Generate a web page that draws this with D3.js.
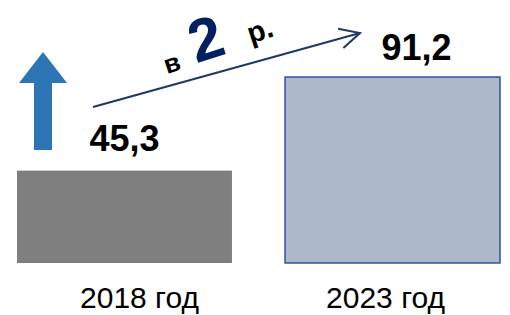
<!DOCTYPE html>
<html>
<head>
<meta charset="utf-8">
<script src="https://cdn.jsdelivr.net/npm/d3@7"></script>
<style>
  body { margin: 0; background: #fff; }
  text { font-family: "Liberation Sans", Arial, sans-serif; }
</style>
</head>
<body>
<script>
var years = ['2018 год', '2023 год'];
var values = [45.3, 91.2];
var valueLabels = ['45,3', '91,2'];
var growthText = ['в', '2', 'р.'];

var width = 510, height = 315;

var svg = d3.select("body").append("svg")
        .attr("width", width)
        .attr("height", height);

var x = d3.scaleBand()
        .domain(years)
        .range([17, 500])
        .paddingInner(0.198);

var y = d3.scaleLinear()
        .domain([0, 91.2])
        .range([263, 77]);

var barFill = ['#7f7f7f', '#adb9ca'];
var barStroke = ['none', '#2f5597'];

svg.selectAll("rect.bar")
    .data(values)
    .enter().append("rect")
        .attr("class", "bar")
        .attr("x", function(d, i){ return x(years[i]); })
        .attr("y", function(d){ return y(d); })
        .attr("width", x.bandwidth())
        .attr("height", function(d){ return y(0) - y(d); })
        .attr("fill", function(d, i){ return barFill[i]; })
        .attr("stroke", function(d, i){ return barStroke[i]; })
        .attr("stroke-width", 1.5);

// value labels over bars
var labelShift = [0, 24];
var labelGap = [20, 17];
svg.selectAll("text.val")
    .data(values)
    .enter().append("text")
        .attr("class", "val")
        .attr("x", function(d, i){ return x(years[i]) + x.bandwidth() / 2 + labelShift[i]; })
        .attr("y", function(d, i){ return y(d) - labelGap[i]; })
        .attr("text-anchor", "middle")
        .attr("font-size", 36)
        .attr("font-weight", "bold")
        .attr("fill", "#000")
        .text(function(d, i){ return valueLabels[i]; });

// category labels
var catShift = [15, -7];
svg.selectAll("text.cat")
    .data(years)
    .enter().append("text")
        .attr("class", "cat")
        .attr("x", function(d, i){ return x(d) + x.bandwidth() / 2 + catShift[i]; })
        .attr("y", 308)
        .attr("text-anchor", "middle")
        .attr("font-size", 30)
        .attr("fill", "#000")
        .text(function(d){ return d; });

// blue block arrow pointing up
svg.append("path")
        .attr("d", "M34,150 L34,83 L19,83 L43,52 L67,83 L52,83 L52,150 Z")
        .attr("fill", "#2e75b6");

// growth arrow line
svg.append("defs").append("marker")
        .attr("id", "open")
        .attr("markerUnits", "userSpaceOnUse")
        .attr("viewBox", "-22 -12 24 24")
        .attr("refX", 0).attr("refY", 0)
        .attr("markerWidth", 24).attr("markerHeight", 24)
        .attr("orient", "auto")
      .append("path")
        .attr("d", "M-20,-10 L0,0 L-20,10")
        .attr("fill", "none")
        .attr("stroke", "#1f3864")
        .attr("stroke-width", 2);

svg.append("line")
        .attr("x1", 93).attr("y1", 107)
        .attr("x2", 360).attr("y2", 33)
        .attr("stroke", "#1f3864")
        .attr("stroke-width", 2.2)
        .attr("marker-end", "url(#open)");

var g = svg.append("g").attr("transform", "translate(167,74) rotate(-18)");
var growthPos = [0, 31, 89];
var growthSize = [26, 60, 29];
var growthColor = ['#000', '#002060', '#000'];
var growthDy = [0, -1, -3];
g.selectAll("text")
    .data(growthText)
    .enter().append("text")
        .attr("x", function(d, i){ return growthPos[i]; })
        .attr("y", function(d, i){ return growthDy[i]; })
        .attr("font-size", function(d, i){ return growthSize[i]; })
        .attr("font-weight", "bold")
        .attr("fill", function(d, i){ return growthColor[i]; })
        .text(function(d){ return d; });
</script>
</body>
</html>
